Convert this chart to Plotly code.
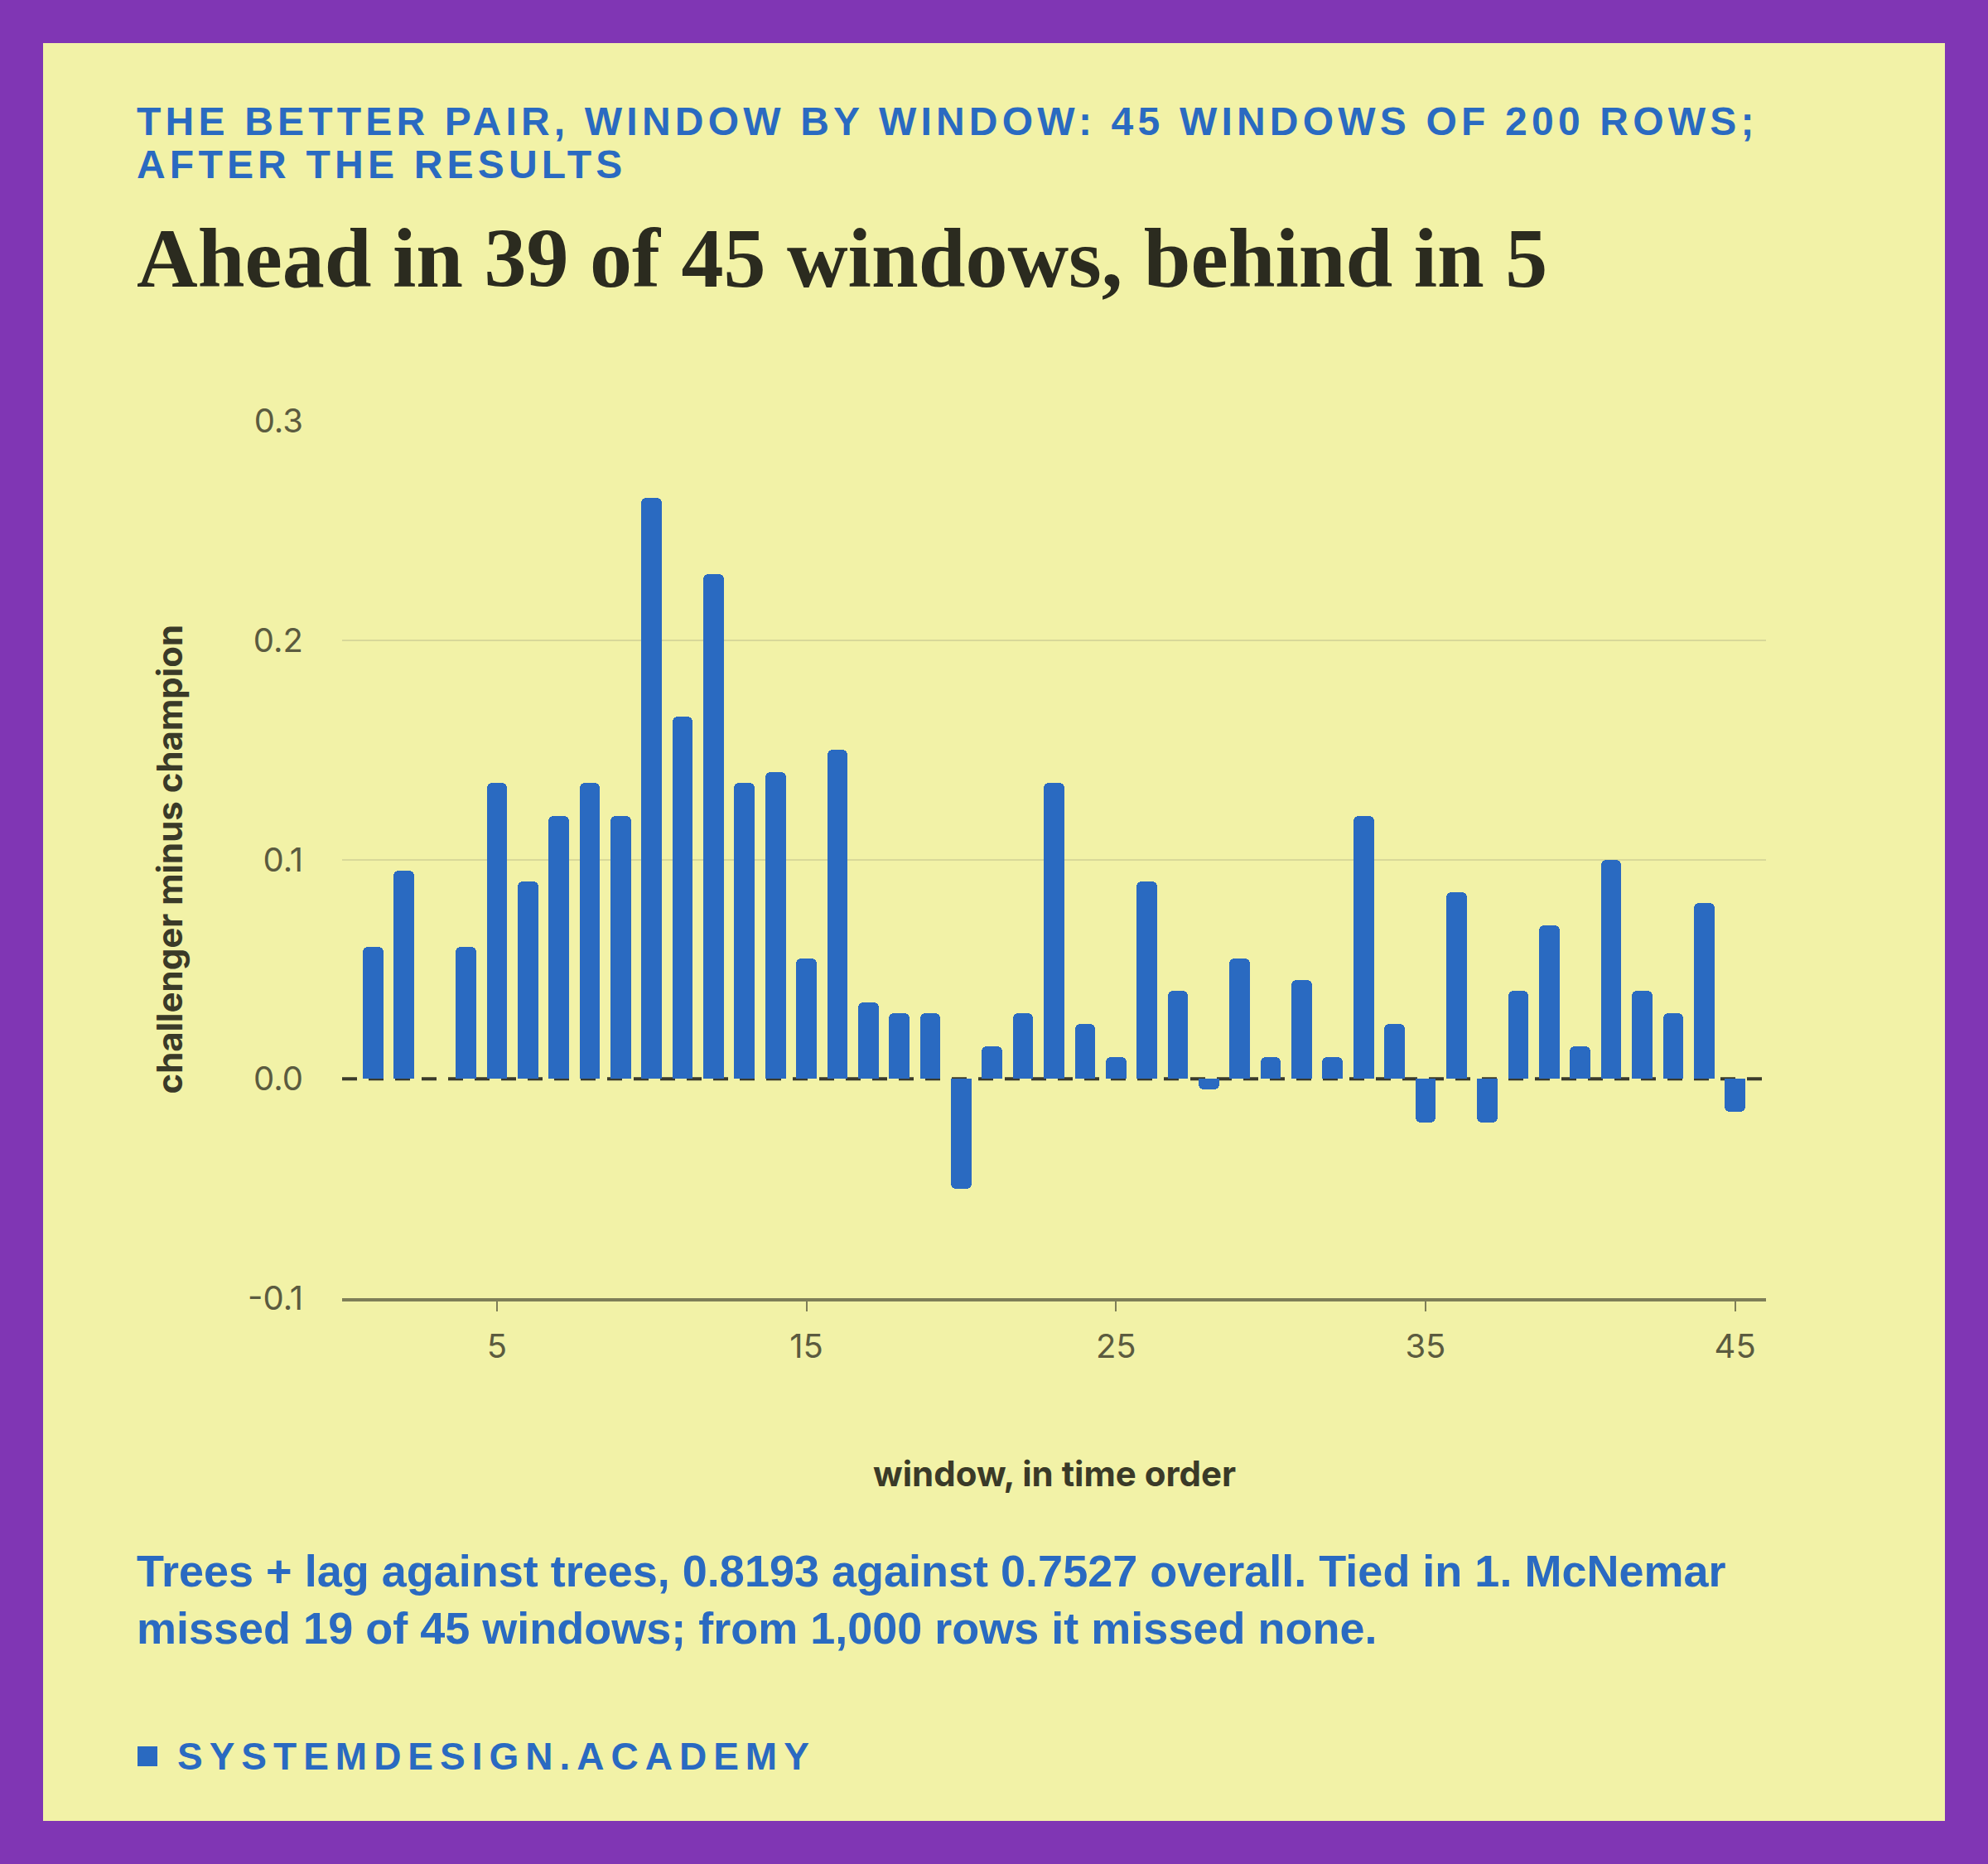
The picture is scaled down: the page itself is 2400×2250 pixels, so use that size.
import plotly.graph_objects as go

# challenger minus champion accuracy, per 200-row window
windows = list(range(1, 46))
diffs = [0.06, 0.095, 0.0, 0.06, 0.135, 0.09, 0.12, 0.135, 0.12, 0.265,
         0.165, 0.23, 0.135, 0.14, 0.055, 0.15, 0.035, 0.03, 0.03, -0.05,
         0.015, 0.03, 0.135, 0.025, 0.01, 0.09, 0.04, -0.005, 0.055, 0.01,
         0.045, 0.01, 0.12, 0.025, -0.02, 0.085, -0.02, 0.04, 0.07, 0.015,
         0.1, 0.04, 0.03, 0.08, -0.015]

y_ticks = [-0.1, 0.0, 0.1, 0.2, 0.3]
y_tick_text = ["-0.1", "0.0", "0.1", "0.2", "0.3"]
y_grid = [0.1, 0.2, 0.3]
x_ticks = [5, 15, 25, 35, 45]

eyebrow = ["THE BETTER PAIR, WINDOW BY WINDOW: 45 WINDOWS OF 200 ROWS;",
           "AFTER THE RESULTS"]
headline = "Ahead in 39 of 45 windows, behind in 5"
note = ["Trees + lag against trees, 0.8193 against 0.7527 overall. Tied in 1. McNemar",
        "missed 19 of 45 windows; from 1,000 rows it missed none."]
brand = "SYSTEMDESIGN.ACADEMY"

PURPLE = "#8036b4"
CREAM = "#f2f2a7"
BLUE = "#2a6ac1"
INK = "#2b2b1f"
MUTED = "#5b5b3f"

W, H = 2400, 2250
L, R, T, B = 413, 2132, 508, 1567   # plot area in pixels


def px(x):
    return (x - L) / (R - L)


def py(y):
    return (B - y) / (B - T)


def spaced(s, ls):
    return '<span style="letter-spacing:%spx">%s</span>' % (ls, s)


fig = go.Figure()
fig.add_trace(go.Bar(x=windows, y=diffs, width=0.66,
                     marker=dict(color=BLUE, line=dict(width=0), cornerradius=6),
                     hoverinfo="x+y"))

# cream card on purple page
fig.add_shape(type="rect", xref="paper", yref="paper", layer="below",
              x0=px(52), x1=px(W - 52), y0=py(52), y1=py(H - 52),
              fillcolor=CREAM, line=dict(width=0))
# dashed zero line under the bars
fig.add_shape(type="line", xref="x", yref="y", layer="below",
              x0=0, x1=46, y0=0, y1=0,
              line=dict(color="#3b3b2b", width=4, dash="18px,14px"))
# brand square
fig.add_shape(type="rect", xref="paper", yref="paper",
              x0=px(166), x1=px(190), y0=py(2108), y1=py(2132),
              fillcolor=BLUE, line=dict(width=0))

anns = []
sans = "Liberation Sans"
for i, line in enumerate(eyebrow):
    anns.append(dict(text="<b>" + spaced(line, 5.2) + "</b>", x=px(163), y=py(175 + 52 * i),
                     xanchor="left", yanchor="bottom",
                     font=dict(family=sans, size=48, color=BLUE)))
anns.append(dict(text="<b>" + headline + "</b>", x=px(163), y=py(370),
                 xanchor="left", yanchor="bottom",
                 font=dict(family="Liberation Serif", size=102, color=INK)))
for i, line in enumerate(note):
    anns.append(dict(text="<b>" + line + "</b>", x=px(163), y=py(1928 + 69 * i),
                     xanchor="left", yanchor="bottom",
                     font=dict(family=sans, size=54, color=BLUE)))
anns.append(dict(text="<b>" + spaced(brand, 8) + "</b>", x=px(212), y=py(2148),
                 xanchor="left", yanchor="bottom",
                 font=dict(family=sans, size=46, color=BLUE)))
anns.append(dict(text="<b>challenger minus champion</b>", x=px(204), y=0.5,
                 textangle=-90, xanchor="center", yanchor="middle",
                 font=dict(family="Inter", size=42, color="#3a3a28")))
anns.append(dict(text="<b>window, in time order</b>", x=0.5, y=py(1778),
                 xanchor="center", yanchor="middle",
                 font=dict(family="Inter", size=42, color="#3a3a28")))
for a in anns:
    a.update(xref="paper", yref="paper", showarrow=False)

fig.update_layout(
    width=W, height=H,
    margin=dict(l=L, r=W - R, t=T, b=H - B, pad=0),
    paper_bgcolor=PURPLE, plot_bgcolor="rgba(0,0,0,0)",
    showlegend=False, annotations=anns, bargap=0,
    font=dict(family="Inter", color=MUTED),
)
fig.update_xaxes(range=[0, 46], tickvals=x_ticks, showgrid=False, zeroline=False,
                 showline=True, linecolor="#7e7e58", linewidth=4,
                 ticks="outside", ticklen=12, tickwidth=2, tickcolor="#7e7e58",
                 ticklabelstandoff=8, tickfont=dict(family="Inter", size=40, color=MUTED))
fig.update_yaxes(range=[-0.1, 0.3], tickvals=y_ticks, ticktext=y_tick_text,
                 showgrid=False, zeroline=False,
                 minor=dict(tickvals=y_grid, showgrid=True, gridcolor="#d8d899",
                            gridwidth=2, ticks=""),
                 showline=False, ticks="", ticklabelstandoff=46,
                 tickfont=dict(family="Inter", size=40, color=MUTED))

fig.write_html("out.html", config={"displayModeBar": False},
               post_script="document.body.style.margin='0px';")
